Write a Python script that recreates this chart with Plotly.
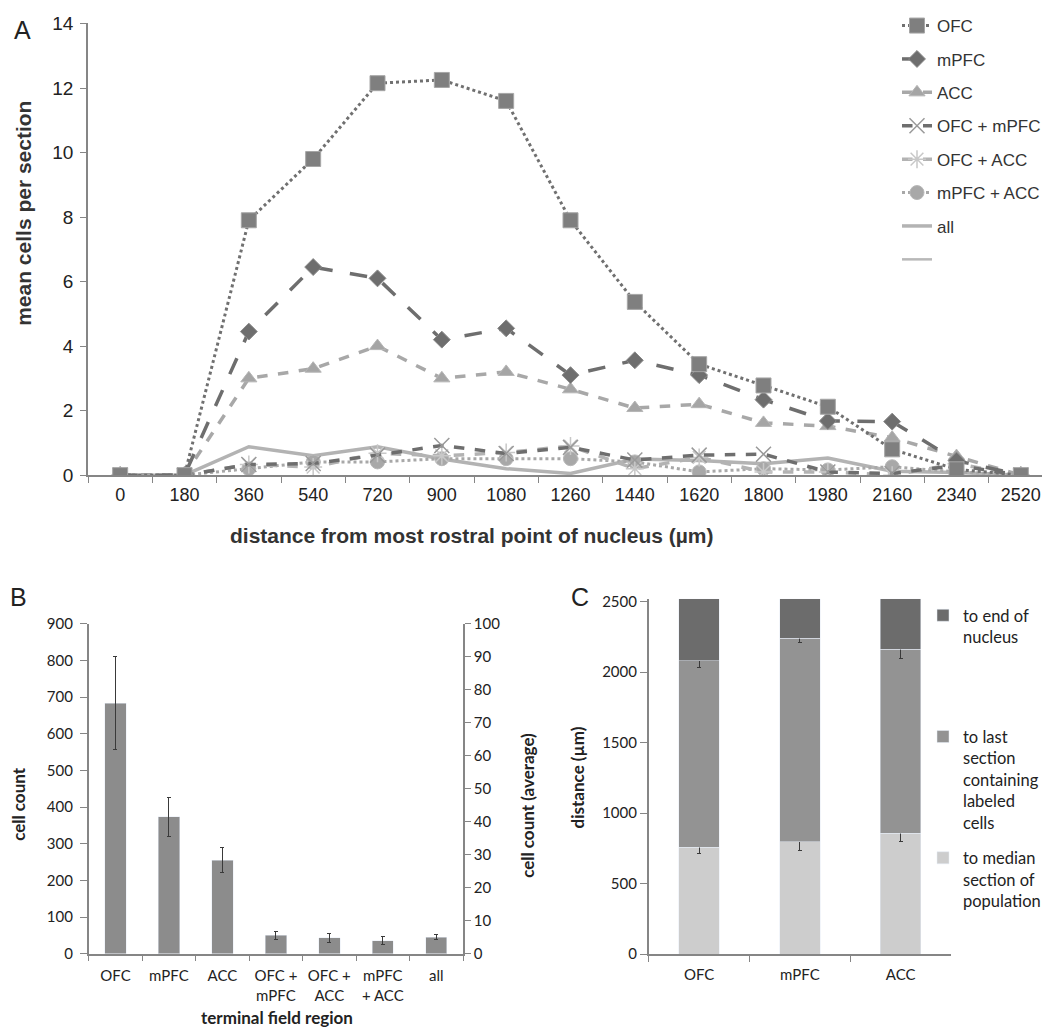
import plotly.graph_objects as go

# ---------------- Panel A data ----------------
distance = ["0", "180", "360", "540", "720", "900", "1080", "1260", "1440",
            "1620", "1800", "1980", "2160", "2340", "2520"]
ofc = [0, 0, 7.9, 9.8, 12.15, 12.25, 11.6, 7.9, 5.37, 3.44, 2.78, 2.12, 0.8, 0.18, 0]
mpfc = [0, 0, 4.45, 6.45, 6.1, 4.2, 4.55, 3.1, 3.56, 3.1, 2.34, 1.68, 1.66, 0.45, 0]
acc = [0, 0, 3.0, 3.3, 4.0, 3.0, 3.2, 2.66, 2.08, 2.2, 1.62, 1.52, 1.16, 0.59, 0]
ofc_mpfc = [0, 0, 0.33, 0.36, 0.62, 0.92, 0.67, 0.86, 0.47, 0.62, 0.65, 0.1, 0.05, 0.3, 0]
ofc_acc = [0, 0, 0.33, 0.25, 0.68, 0.6, 0.7, 0.9, 0.2, 0.55, 0.1, 0.1, 0.0, 0.35, 0]
mpfc_acc = [0, 0, 0.2, 0.41, 0.41, 0.51, 0.51, 0.51, 0.41, 0.1, 0.2, 0.16, 0.26, 0.1, 0]
all_regions = [0, 0, 0.88, 0.6, 0.88, 0.5, 0.2, 0.05, 0.5, 0.45, 0.35, 0.53, 0.12, 0.08, 0]

# ---------------- Panel B data ----------------
regions_b = ["OFC", "mPFC", "ACC", "OFC +<br>mPFC", "OFC +<br>ACC", "mPFC<br>+ ACC", "all"]
cell_count = [683, 374, 255, 50, 43, 36, 45]
cell_count_err = [127, 53, 34, 11, 12, 10, 7]

# ---------------- Panel C data ----------------
regions_c = ["OFC", "mPFC", "ACC"]
to_median = [756, 796, 858]
to_median_err = [41, 63, 63]
to_last = [1323, 1444, 1304]          # segment: median -> last labeled section
to_last_err = [44, 31, 62]
to_end = [441, 280, 358]              # segment: last labeled section -> end (2520)

fig = go.Figure()

ARIAL = "Liberation Sans, Arial, sans-serif"
NARROW = "Liberation Sans Narrow, Arial Narrow, Liberation Sans, sans-serif"
CAL = "Lato, Carlito, Calibri, sans-serif"

A_series = [
    dict(name="OFC", y=ofc, line=dict(color="#707070", width=3, dash="dot"),
         marker=dict(symbol="square", size=15, color="#7f7f7f", line=dict(color="#a6a6a6", width=1))),
    dict(name="mPFC", y=mpfc, line=dict(color="#6e6e6e", width=3.5, dash="longdash"),
         marker=dict(symbol="diamond", size=13, color="#6e6e6e", line=dict(color="#8a8a8a", width=1))),
    dict(name="ACC", y=acc, line=dict(color="#a8a8a8", width=3.5, dash="dash"),
         marker=dict(symbol="triangle-up", size=14, color="#a5a5a5", line=dict(color="#b5b5b5", width=1))),
    dict(name="OFC + mPFC", y=ofc_mpfc, line=dict(color="#6e6e6e", width=3.5, dash="dash"),
         marker=dict(symbol="x-thin-open", size=15, color="#9a9a9a", line=dict(color="#9a9a9a", width=1.5))),
    dict(name="OFC + ACC", y=ofc_acc, line=dict(color="#b3b3b3", width=3.5, dash="dash"),
         marker=dict(symbol="asterisk-open", size=15, color="#c8c8c8", line=dict(color="#c8c8c8", width=1.5))),
    dict(name="mPFC + ACC", y=mpfc_acc, line=dict(color="#a8a8a8", width=3, dash="dot"),
         marker=dict(symbol="circle", size=14, color="#a8a8a8", line=dict(color="#b8b8b8", width=1))),
]

order = [5, 4, 3, 2, 1, 0]
rank = {s["name"]: i for i, s in enumerate(A_series)}
fig.add_trace(go.Scatter(x=distance, y=all_regions, name="all", mode="lines",
                         line=dict(color="#b3b3b3", width=3.5),
                         xaxis="x", yaxis="y", legend="legend", legendrank=7,
                         legendgroup="g7"))
for i in order:
    s = A_series[i]
    fig.add_trace(go.Scatter(x=distance, y=s["y"], name=s["name"], mode="lines+markers",
                             line=s["line"], marker=s["marker"], xaxis="x", yaxis="y",
                             legend="legend", legendrank=rank[s["name"]] + 1,
                             legendgroup="g%d" % i))
fig.add_trace(go.Scatter(x=distance, y=[None] * len(distance), name=" ", mode="lines",
                         line=dict(color="#b8b8b8", width=2.5), xaxis="x", yaxis="y",
                         legend="legend", legendrank=8, legendgroup="g8", hoverinfo="skip"))

# ---------------- Panel B ----------------
fig.add_trace(go.Bar(x=regions_b, y=cell_count, xaxis="x2", yaxis="y2",
                     marker=dict(color="#8c8c8c"), showlegend=False,
                     error_y=dict(type="data", array=cell_count_err, color="#3a3a3a",
                                  thickness=1, width=2)))
fig.add_trace(go.Scatter(x=regions_b, y=[None] * len(regions_b), xaxis="x2", yaxis="y3",
                         showlegend=False, hoverinfo="skip", mode="markers"))

# ---------------- Panel C ----------------
fig.add_trace(go.Bar(x=regions_c, y=to_median, name="to median<br>section of<br>population",
                     xaxis="x3", yaxis="y4", marker=dict(color="#cdcdcd"), legend="legend2",
                     legendgroup="c1", legendrank=3,
                     error_y=dict(type="data", array=to_median_err, color="#3a3a3a",
                                  thickness=1, width=2)))
fig.add_trace(go.Bar(x=regions_c, y=to_last, name="to last<br>section<br>containing<br>labeled<br>cells",
                     xaxis="x3", yaxis="y4", marker=dict(color="#939393"), legend="legend2",
                     legendgroup="c2", legendrank=2,
                     error_y=dict(type="data", array=to_last_err, color="#3a3a3a",
                                  thickness=1, width=2)))
fig.add_trace(go.Bar(x=regions_c, y=to_end,
                     name="to end of<br>nucleus<br>\u00a0<br>\u00a0<br>\u00a0",
                     xaxis="x3", yaxis="y4", marker=dict(color="#6c6c6c"), legend="legend2",
                     legendgroup="c3", legendrank=1))

H = 1032.0
W = 1050.0
# mapping from wanted on-screen pixel position to figure coordinates
OX, OY, SY = 7.0, 18.5, 0.9785


def fx(x):
    return (x - OX) / W


def fy(y):
    return 1 - ((y - OY) / SY) / H


axcol = "#868686"
tick_common = dict(showline=True, linecolor=axcol, linewidth=1.5, ticks="outside",
                   tickcolor=axcol, showgrid=False)

fig.update_layout(
    width=1050, height=1032,
    margin=dict(l=0, r=0, t=0, b=0),
    paper_bgcolor="white", plot_bgcolor="white",
    barmode="stack", bargap=0.6,
    font=dict(family=ARIAL, color="#222222"),
    xaxis=dict(domain=[fx(87), fx(1052)], anchor="y", type="category", range=[-0.5, 14.5],
               tickson="boundaries", ticklen=6, ticklabelstandoff=3,
               tickfont=dict(family=NARROW, size=18, color="#222222"), **tick_common),
    yaxis=dict(domain=[fy(474), fy(22)], anchor="x", range=[0, 14], dtick=2,
               ticklen=6, zeroline=False, ticklabelstandoff=3,
               tickfont=dict(family=ARIAL, size=19, color="#222222"), **tick_common),
    xaxis2=dict(domain=[fx(87.7), fx(462)], anchor="y2", type="category",
                tickson="boundaries", ticklen=6, ticklabelstandoff=8,
                tickfont=dict(family=CAL, size=15, color="#222222"), **tick_common),
    yaxis2=dict(domain=[fy(953), fy(622.7)], anchor="x2", range=[0, 900], dtick=100,
                ticklen=7, zeroline=False, ticklabelstandoff=4,
                tickfont=dict(family=CAL, size=15, color="#222222"), **tick_common),
    yaxis3=dict(overlaying="y2", anchor="x2", side="right", range=[0, 100], dtick=10,
                ticklen=6, zeroline=False,
                tickfont=dict(family=CAL, size=15, color="#222222"), **tick_common),
    xaxis3=dict(domain=[fx(647.7), fx(950)], anchor="y4", type="category",
                tickson="boundaries", ticklen=6, ticklabelstandoff=6,
                tickfont=dict(family=CAL, size=15, color="#222222"), **tick_common),
    yaxis4=dict(domain=[fy(953.3), fy(597.8)], anchor="x3", range=[0, 2520],
                tickvals=[0, 500, 1000, 1500, 2000, 2500],
                ticklen=7, zeroline=False,
                tickfont=dict(family=CAL, size=15, color="#222222"), **tick_common),
    legend=dict(x=fx(896), y=1 + 12.6 / H, xanchor="left", yanchor="top",
                bgcolor="rgba(255,255,255,0)", font=dict(family=ARIAL, size=17, color="#333333"),
                traceorder="grouped", tracegroupgap=8.3, itemwidth=30),
    legend2=dict(x=fx(922), y=fy(597), xanchor="left", yanchor="top",
                 bgcolor="rgba(255,255,255,0)", font=dict(family=CAL, size=16.5, color="#222222"),
                 traceorder="grouped", tracegroupgap=11, valign="top", itemwidth=30),
    annotations=[
        dict(text="A", x=fx(21), y=1 - 10 / H, xref="paper", yref="paper", xanchor="center",
             yanchor="middle", showarrow=False, font=dict(family=ARIAL, size=25, color="#222222")),
        dict(text="B", x=fx(17.5), y=fy(596), xref="paper", yref="paper", xanchor="center",
             yanchor="middle", showarrow=False, font=dict(family=ARIAL, size=25, color="#222222")),
        dict(text="C", x=fx(579), y=fy(596), xref="paper", yref="paper", xanchor="center",
             yanchor="middle", showarrow=False, font=dict(family=ARIAL, size=25, color="#222222")),
        dict(text="<b>distance from most rostral point of nucleus (µm)</b>", x=fx(470), y=fy(534),
             xref="paper", yref="paper", xanchor="center", yanchor="middle", showarrow=False,
             font=dict(family=ARIAL, size=21, color="#333333")),
        dict(text="<b>mean cells per section</b>", x=fx(23), y=fy(212.5), textangle=-90,
             xref="paper", yref="paper", xanchor="center", yanchor="middle", showarrow=False,
             font=dict(family=ARIAL, size=21, color="#333333")),
        dict(text="<b>cell count</b>", x=fx(18), y=fy(803), textangle=-90,
             xref="paper", yref="paper", xanchor="center", yanchor="middle", showarrow=False,
             font=dict(family=CAL, size=17, color="#222222")),
        dict(text="<b>terminal field region</b>", x=fx(275.5), y=fy(1017),
             xref="paper", yref="paper", xanchor="center", yanchor="middle", showarrow=False,
             font=dict(family=CAL, size=17, color="#222222")),
        dict(text="<b>cell count (average)</b>", x=fx(527), y=fy(805), textangle=-90,
             xref="paper", yref="paper", xanchor="center", yanchor="middle", showarrow=False,
             font=dict(family=CAL, size=17, color="#222222")),
        dict(text="<b>distance (µm)</b>", x=fx(576.5), y=fy(777), textangle=-90,
             xref="paper", yref="paper", xanchor="center", yanchor="middle", showarrow=False,
             font=dict(family=CAL, size=17, color="#222222")),
    ],
)

fig.write_html("out.html")
